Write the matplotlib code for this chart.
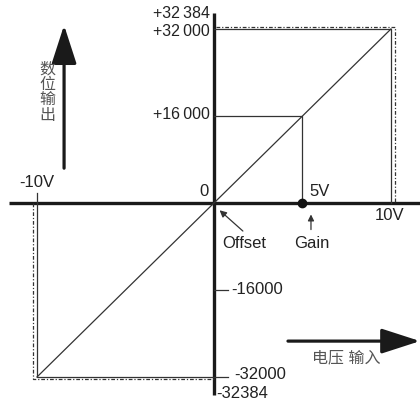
import matplotlib
matplotlib.use('Agg')
import matplotlib.pyplot as plt

plt.rcParams['font.family'] = ['Liberation Sans', 'Noto Sans CJK SC', 'DejaVu Sans']

# data
volts = [-10, 0, 5, 10]
counts = [-32000, 0, 16000, 32000]
limit = 32384
gain_v, gain_c = 5, 16000

line_c = '#333333'
txt_c = '#222222'

fig = plt.figure(figsize=(4.2, 4.05), dpi=100)
ax = fig.add_axes([0, 0, 1, 1])
ax.set_xlim(-12.09, 11.64)
ax.set_ylim(-37150, 37330)
ax.axis('off')

# main axes (thick)
ax.plot([-11.6, 11.64], [0, 0], color='#1a1a1a', lw=2.4, solid_capstyle='butt')
ax.plot([0, 0], [-35300, 34900], color='#1a1a1a', lw=2.4, solid_capstyle='butt')

# diagonal characteristic
ax.plot([volts[0], volts[-1]], [counts[0], counts[-1]], color=line_c, lw=0.9)

# guide lines at +16000 / +32000 / -32000
ax.plot([0, gain_v, gain_v], [gain_c, gain_c, 0], color=line_c, lw=0.9)
ax.plot([0, volts[-1], volts[-1]], [counts[-1], counts[-1], 0], color=line_c, lw=0.9)
ax.plot([volts[0], volts[0], 0.8], [1800, counts[0], counts[0]], color=line_c, lw=0.9)
ax.plot([0, 0.8], [-16000, -16000], color=line_c, lw=0.9)

# limit box (dash-dot)
vlim = 10.2
ax.plot([0.1, vlim, vlim], [limit, limit, 0], color=line_c, lw=0.9, ls=(0, (3, 1.5, 1, 1.5)))
ax.plot([-vlim, -vlim, 0], [0, -limit, -limit], color=line_c, lw=0.9, ls=(0, (3, 1.5, 1, 1.5)))

# gain point
ax.plot([gain_v], [0], 'o', color='#111111', ms=6)

fs = 12
ax.text(-0.25, 34900, '+32\u2009384', ha='right', va='center', fontsize=11.5, color=txt_c)
ax.text(-0.25, 31500, '+32\u2009000', ha='right', va='center', fontsize=11.5, color=txt_c)
ax.text(-0.25, 16200, '+16\u2009000', ha='right', va='center', fontsize=11.5, color=txt_c)
ax.text(-0.3, 2100, '0', ha='right', va='center', fontsize=fs, color=txt_c)
ax.text(-10.0, 3700, '-10V', ha='center', va='center', fontsize=fs, color=txt_c)
ax.text(5.4, 2200, '5V', ha='left', va='center', fontsize=fs, color=txt_c)
ax.text(9.9, -2300, '10V', ha='center', va='center', fontsize=fs, color=txt_c)
ax.text(1.7, -7400, 'Offset', ha='center', va='center', fontsize=fs, color=txt_c)
ax.text(5.5, -7400, 'Gain', ha='center', va='center', fontsize=fs, color=txt_c)
ax.text(0.95, -16000, '-16000', ha='left', va='center', fontsize=fs, color=txt_c)
ax.text(1.15, -31450, '-32000', ha='left', va='center', fontsize=fs, color=txt_c)
ax.text(0.15, -35000, '-32384', ha='left', va='center', fontsize=fs, color=txt_c)

# pointer arrows
ax.annotate('', xy=(0.2, -1000), xytext=(1.75, -5500),
            arrowprops=dict(arrowstyle='-|>', color=line_c, lw=0.9, mutation_scale=10))
ax.annotate('', xy=(5.48, -1600), xytext=(5.48, -5400),
            arrowprops=dict(arrowstyle='-|>', color=line_c, lw=0.9, mutation_scale=9))

# big direction arrows
ax.annotate('', xy=(-8.47, 32700), xytext=(-8.47, 6400),
            arrowprops=dict(arrowstyle='-|>,head_length=1.7,head_width=0.55',
                            color='#1a1a1a', lw=2.3, mutation_scale=14, shrinkA=0, shrinkB=0))
ax.annotate('', xy=(11.64, -25400), xytext=(4.18, -25400), annotation_clip=False,
            arrowprops=dict(arrowstyle='-|>,head_length=1.7,head_width=0.55',
                            color='#1a1a1a', lw=2.3, mutation_scale=14, shrinkA=0, shrinkB=0))

ax.text(-9.43, 20400, '数\n位\n输\n出', ha='center', va='center', fontsize=11.5,
        color='#555555', linespacing=1.05)
ax.text(7.45, -28500, '电压 输入', ha='center', va='center', fontsize=11.5, color='#555555')

fig.savefig('out.png', dpi=100)
